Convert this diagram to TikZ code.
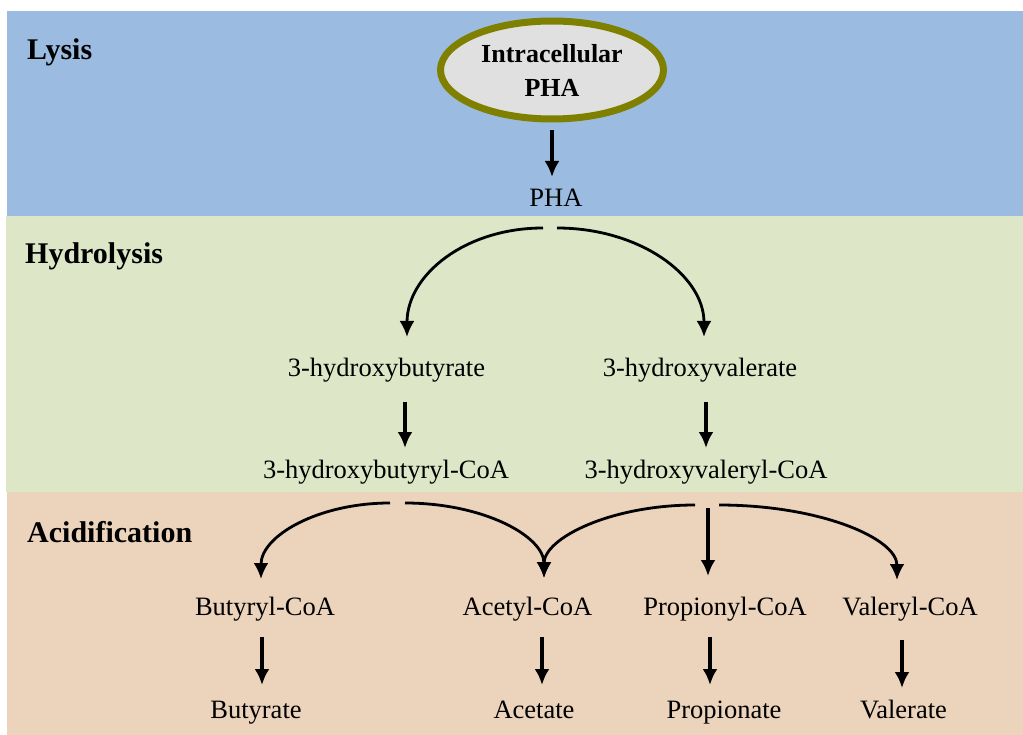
\documentclass[tikz,border=0pt]{standalone}
\usepackage{fontspec}
\setmainfont{Liberation Serif}
\usetikzlibrary{arrows.meta,calc,shapes.geometric}
\definecolor{lysisblue}{RGB}{155,188,224}
\definecolor{hydrogreen}{RGB}{221,230,198}
\definecolor{acidtan}{RGB}{235,211,188}
\definecolor{wallolive}{RGB}{128,128,0}
\definecolor{cellgray}{RGB}{224,224,224}

\begin{document}
\begin{tikzpicture}[x=1pt, y=-1pt, >={Latex[length=16pt,width=15pt]},
    chem/.style={anchor=base, inner sep=0pt, font=\fontsize{26.5}{30}\selectfont},
    stage/.style={anchor=base west, inner sep=0pt, font=\fontsize{30}{34}\selectfont\bfseries},
    flow/.style={->, line width=3.4pt},
    branch/.style={->, line width=2.8pt}]
    \useasboundingbox (0,0) rectangle (1023,735);
    % stage bands
    \fill[lysisblue] (7,11) rectangle (1023,216);
    \fill[hydrogreen] (6,216) rectangle (1023,492);
    \fill[acidtan] (7,492) rectangle (1023,735);
    \node[stage] (lysis) at (27,60) {Lysis};
    \node[stage] (hydro) at (25,264) {Hydrolysis};
    \node[stage] (acid) at (27,542) {Acidification};

    \node[ellipse, draw=wallolive, line width=7pt, fill=cellgray, minimum width=223pt,
          minimum height=98pt, inner sep=0pt, align=center,
          font=\fontsize{26}{34}\selectfont\bfseries] (cell) at (552,70) {Intracellular\\PHA};
    \node[chem] (pha) at (556,207) {PHA};
    \node[chem] (hb) at (386.5,377) {3-hydroxybutyrate};
    \node[chem] (hv) at (700,377) {3-hydroxyvalerate};
    \node[chem] (hbcoa) at (386,478) {3-hydroxybutyryl-CoA};
    \node[chem] (hvcoa) at (706,478) {3-hydroxyvaleryl-CoA};
    \node[chem] (butcoa) at (265,615) {Butyryl-CoA};
    \node[chem] (acecoa) at (527.5,615) {Acetyl-CoA};
    \node[chem] (propcoa) at (725,615) {Propionyl-CoA};
    \node[chem] (valcoa) at (910,615) {Valeryl-CoA};
    \node[chem] (but) at (256,718) {Butyrate};
    \node[chem] (ace) at (534,718) {Acetate};
    \node[chem] (prop) at (724,718) {Propionate};
    \node[chem] (val) at (903.5,718) {Valerate};

    % lysis and hydrolysis
    \draw[flow] ($(cell.south)+(0,8)$) -- ($(pha.base)+(-4,-30)$);
    \draw[branch] ($(pha.base)+(-13,21)$) .. controls +(-78,0) and +(0,-62) .. ($(hb.base)+(20.5,-40)$);
    \draw[branch] ($(pha.base)+(1,21)$) .. controls +(82,0) and +(0,-62) .. ($(hv.base)+(4,-40)$);
    \draw[flow] ($(hb.base)+(18.5,25)$) -- ($(hbcoa.base)+(19,-30)$);
    \draw[flow] ($(hv.base)+(6,25)$) -- ($(hvcoa.base)+(0,-30)$);

    % acidification
    \draw[branch] ($(hbcoa.base)+(4,25)$) .. controls +(-72,0) and +(0,-43) .. ($(butcoa.base)+(-4,-36)$);
    \draw[branch] ($(hbcoa.base)+(19,25)$) .. controls +(78,0) and +(0,-42) .. ($(acecoa.base)+(16.5,-37)$);
    \draw[branch] ($(hvcoa.base)+(-11,27)$) .. controls +(-84,0) and +(0,-40) .. ($(acecoa.base)+(16.5,-37)$);
    \draw[flow] ($(hvcoa.base)+(2,30)$) -- ($(propcoa.base)+(-17,-39)$);
    \draw[branch] ($(hvcoa.base)+(13,27)$) .. controls +(100,0) and +(0,-42) .. ($(valcoa.base)+(-13,-35)$);

    \draw[flow] ($(butcoa.base)+(-3,22)$) -- ($(but.base)+(6,-33)$);
    \draw[flow] ($(acecoa.base)+(14.5,22)$) -- ($(ace.base)+(8,-33)$);
    \draw[flow] ($(propcoa.base)+(-15,22)$) -- ($(prop.base)+(-14,-33)$);
    \draw[flow] ($(valcoa.base)+(-8,25)$) -- ($(val.base)+(-1.5,-30)$);
\end{tikzpicture}
\end{document}
